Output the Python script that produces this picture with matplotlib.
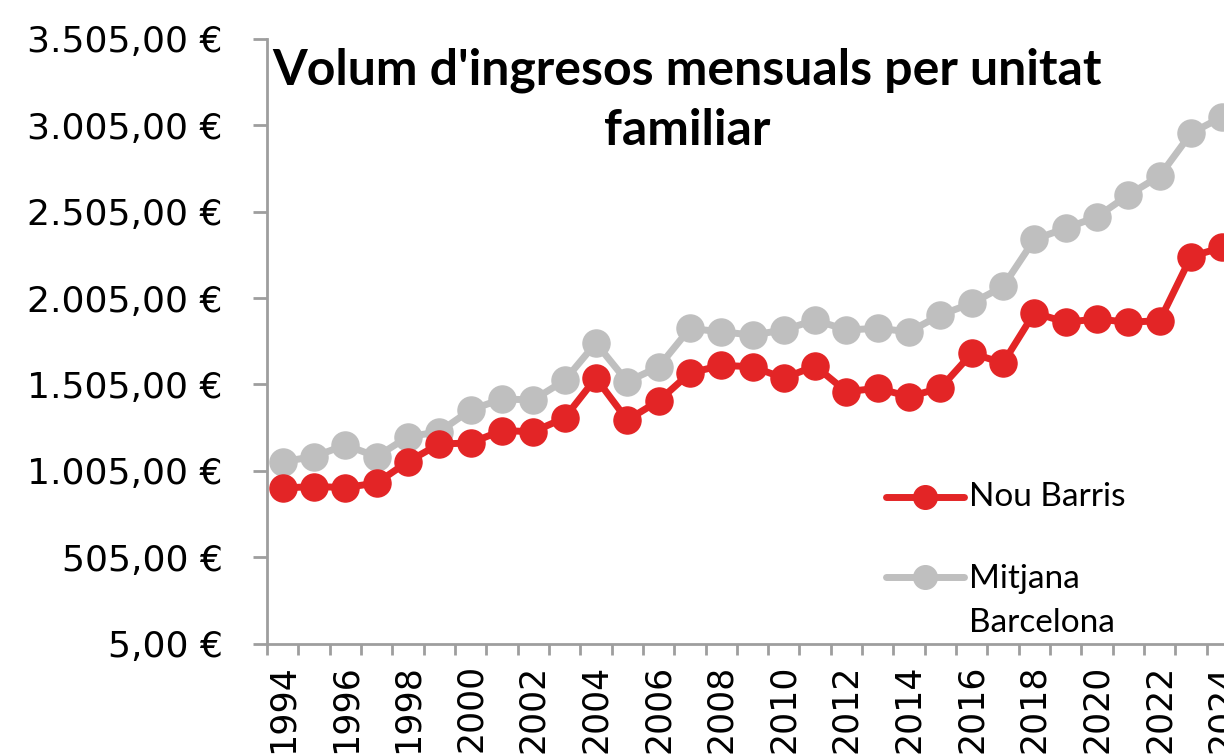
import matplotlib
matplotlib.use("Agg")
import matplotlib.pyplot as plt
from matplotlib.ticker import FixedLocator, FuncFormatter

years = list(range(1994, 2025))
nou_barris = [905, 914, 908, 934, 1058, 1160, 1166, 1238, 1231, 1311, 1542, 1299, 1409,
              1571, 1615, 1608, 1541, 1612, 1463, 1483, 1434, 1484, 1685, 1629, 1920,
              1865, 1884, 1865, 1874, 2245, 2299]
mitjana_bcn = [1058, 1087, 1154, 1087, 1202, 1231, 1357, 1421, 1415, 1528, 1745, 1521, 1606,
               1829, 1810, 1791, 1820, 1878, 1820, 1830, 1810, 1907, 1975, 2072, 2345,
               2409, 2476, 2602, 2712, 2959, 3055]
y_ticks = [5, 505, 1005, 1505, 2005, 2505, 3005, 3505]
x_label_years = list(range(1994, 2025, 2))
title = "Volum d'ingresos mensuals per unitat\nfamiliar"
labels = ["Nou Barris", "Mitjana\nBarcelona"]

RED = "#E32526"
GREY = "#BFBFBF"
AXIS = "#9E9E9E"

W, H = 1224, 756
fig = plt.figure(figsize=(W / 100, H / 100), dpi=100)
ax = fig.add_axes([267 / W, 112.5 / H, 971 / W, 604.5 / H])

ax.plot(years, nou_barris, color=RED, lw=5, marker="o", ms=19.5, zorder=3)
ax.plot(years, mitjana_bcn, color=GREY, lw=5, marker="o", ms=19.5, zorder=2)

ax.set_xlim(1993.5, 2024.5)
ax.set_ylim(5, 3505)

def eur(v, pos=None):
    s = f"{v:,.2f}"
    s = s.replace(",", "X").replace(".", ",").replace("X", ".")
    return s + " €"

ax.yaxis.set_major_locator(FixedLocator(y_ticks))
ax.yaxis.set_major_formatter(FuncFormatter(eur))
ax.set_xticks(x_label_years)
ax.set_xticklabels([str(y) for y in x_label_years], rotation=90, va="top")
ax.set_xticks([y - 0.5 for y in years] + [2024.5], minor=True)

for s in ["top", "right"]:
    ax.spines[s].set_visible(False)
for s in ["left", "bottom"]:
    ax.spines[s].set_color(AXIS)
    ax.spines[s].set_linewidth(2)

ax.tick_params(axis="y", direction="out", length=10, width=2, color=AXIS,
               labelsize=26, pad=22, labelcolor="black")
ax.tick_params(axis="x", which="major", length=0, labelsize=25, pad=15)
ax.tick_params(axis="x", which="minor", direction="out", length=8, width=2, color=AXIS)

fig.text(687 / W, 1 - 100 / H, title, ha="center", va="center",
         fontsize=36, fontweight="bold", family=["Lato", "DejaVu Sans"],
         linespacing=1.4)

# manual legend (in figure pixel coordinates)
def fx(px):
    return px / W

def fy(py):
    return 1 - py / H

for color, py, label, ty in [(RED, 497, labels[0], 497), (GREY, 577, labels[1], 601)]:
    fig.add_artist(plt.Line2D([fx(886), fx(964)], [fy(py), fy(py)], color=color, lw=5,
                              solid_capstyle="round", transform=fig.transFigure))
    fig.add_artist(plt.Line2D([fx(925)], [fy(py)], color=color, marker="o", ms=17,
                              transform=fig.transFigure))
    fig.text(fx(969), fy(ty), label, ha="left", va="center", fontsize=24,
             family=["Lato", "DejaVu Sans"], linespacing=1.55)

fig.savefig("out.png", dpi=100)
